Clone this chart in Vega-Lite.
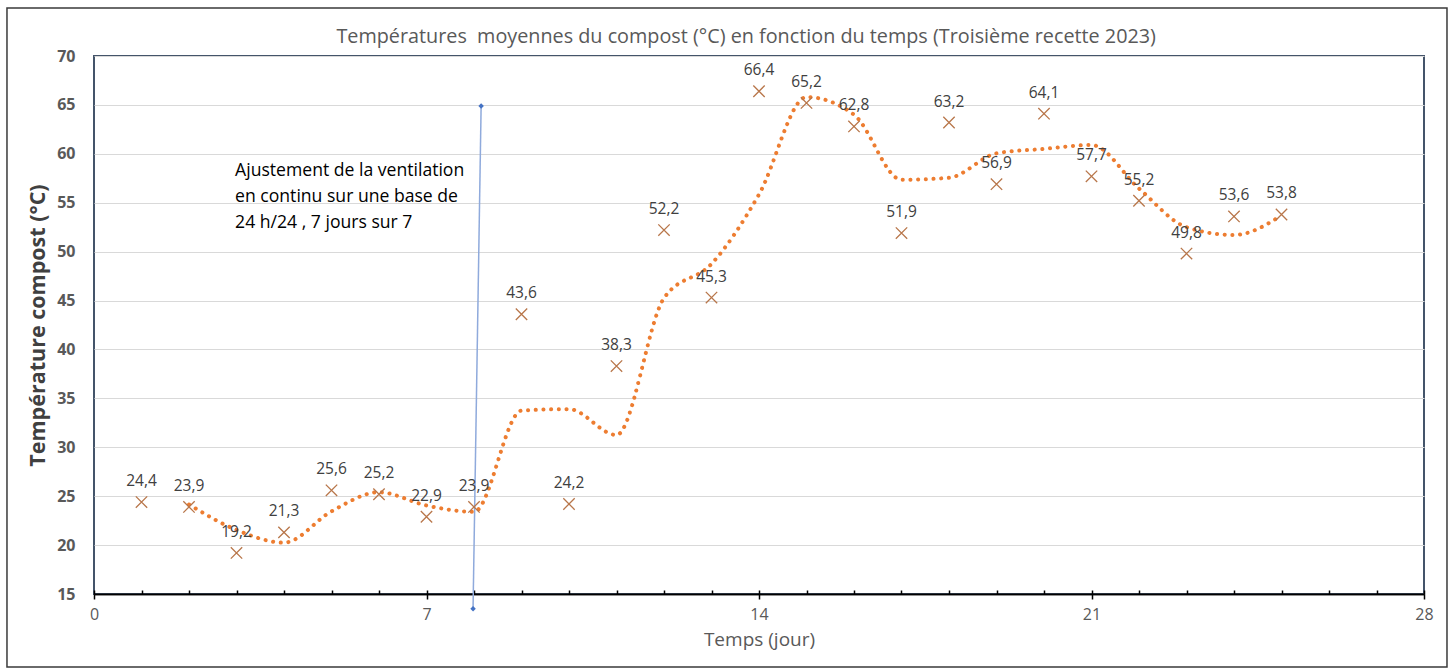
{
  "$schema": "https://vega.github.io/schema/vega-lite/v6.json",
  "width": 1330,
  "height": 538,
  "autosize": {"type": "none"},
  "padding": {"left": 94, "top": 56, "right": 30, "bottom": 74},
  "background": "white",
  "datasets": {
    "mesures": [
      {"jour": 1, "temp": 24.4}, {"jour": 2, "temp": 23.9}, {"jour": 3, "temp": 19.2},
      {"jour": 4, "temp": 21.3}, {"jour": 5, "temp": 25.6}, {"jour": 6, "temp": 25.2},
      {"jour": 7, "temp": 22.9}, {"jour": 8, "temp": 23.9}, {"jour": 9, "temp": 43.6},
      {"jour": 10, "temp": 24.2}, {"jour": 11, "temp": 38.3}, {"jour": 12, "temp": 52.2},
      {"jour": 13, "temp": 45.3}, {"jour": 14, "temp": 66.4}, {"jour": 15, "temp": 65.2},
      {"jour": 16, "temp": 62.8}, {"jour": 17, "temp": 51.9}, {"jour": 18, "temp": 63.2},
      {"jour": 19, "temp": 56.9}, {"jour": 20, "temp": 64.1}, {"jour": 21, "temp": 57.7},
      {"jour": 22, "temp": 55.2}, {"jour": 23, "temp": 49.8}, {"jour": 24, "temp": 53.6},
      {"jour": 25, "temp": 53.8}
    ],
    "tendance": [
      {"jour": 2, "moy": 24.15}, {"jour": 3, "moy": 21.55}, {"jour": 4, "moy": 20.25},
      {"jour": 5, "moy": 23.45}, {"jour": 6, "moy": 25.4}, {"jour": 7, "moy": 24.05},
      {"jour": 8, "moy": 23.4}, {"jour": 9, "moy": 33.75}, {"jour": 10, "moy": 33.9},
      {"jour": 11, "moy": 31.25}, {"jour": 12, "moy": 45.25}, {"jour": 13, "moy": 48.75},
      {"jour": 14, "moy": 55.85}, {"jour": 15, "moy": 65.8}, {"jour": 16, "moy": 64.0},
      {"jour": 17, "moy": 57.35}, {"jour": 18, "moy": 57.55}, {"jour": 19, "moy": 60.05},
      {"jour": 20, "moy": 60.5}, {"jour": 21, "moy": 60.9}, {"jour": 22, "moy": 56.45},
      {"jour": 23, "moy": 52.5}, {"jour": 24, "moy": 51.7}, {"jour": 25, "moy": 53.7}
    ],
    "repere": [
      {"jour": 7.98, "temp": 13.5},
      {"jour": 8.15, "temp": 64.9}
    ],
    "unique": [{}]
  },
  "data": {"name": "mesures"},
  "layer": [
    {
      "data": {"name": "unique"},
      "mark": {"type": "rect", "filled": false, "stroke": "#3a3a3a", "strokeWidth": 1.5, "clip": false},
      "encoding": {
        "x": {"datum": -1.832, "type": "quantitative", "scale": {"domain": [0, 28], "nice": false, "zero": false}, "axis": null},
        "x2": {"datum": 28.484},
        "y": {
          "datum": 74.91, "type": "quantitative",
          "scale": {"domain": [15, 70], "nice": false, "zero": false},
          "axis": {
            "values": [15, 20, 25, 30, 35, 40, 45, 50, 55, 60, 65, 70],
            "domain": false, "ticks": false,
            "grid": true, "gridColor": "#D9D9D9", "gridWidth": 1.2,
            "labelFont": "Open Sans", "labelFontSize": 16, "labelFontWeight": "bold", "labelColor": "#595959", "labelPadding": 19,
            "title": "Température compost (°C)", "titleFont": "Open Sans", "titleFontSize": 21.5, "titleFontWeight": "bold",
            "titleColor": "#404040", "titlePadding": 7
          }
        },
        "y2": {"datum": 7.54}
      }
    },
    {
      "data": {"name": "unique"},
      "mark": {"type": "text", "font": "Open Sans", "fontSize": 19.8, "color": "#595959", "align": "center", "baseline": "alphabetic", "clip": false},
      "encoding": {
        "x": {"datum": 13.73, "type": "quantitative", "axis": null},
        "y": {"datum": 71.33, "type": "quantitative"},
        "text": {"value": "Températures\u00a0 moyennes du compost (°C) en fonction du temps (Troisième recette 2023)"}
      }
    },
    {
      "data": {"name": "repere"},
      "mark": {"type": "line", "color": "#8FAADC", "strokeWidth": 1.5, "clip": false},
      "encoding": {
        "x": {"field": "jour", "type": "quantitative", "axis": null},
        "y": {"field": "temp", "type": "quantitative"}
      }
    },
    {
      "data": {"name": "repere"},
      "mark": {"type": "point", "shape": "diamond", "filled": true, "color": "#4472C4", "size": 30, "opacity": 1, "clip": false},
      "encoding": {
        "x": {"field": "jour", "type": "quantitative", "axis": null},
        "y": {"field": "temp", "type": "quantitative"}
      }
    },
    {
      "data": {"name": "tendance"},
      "mark": {"type": "line", "color": "#ED7D31", "strokeWidth": 4, "strokeCap": "round", "strokeDash": [0.1, 7.6], "interpolate": "monotone"},
      "encoding": {
        "x": {
          "field": "jour", "type": "quantitative",
          "axis": {
            "orient": "bottom",
            "values": [0, 7, 14, 21, 28],
            "domain": true, "domainColor": "#000000", "domainWidth": 1.5,
            "ticks": true, "tickColor": "#000000", "tickSize": 5, "tickWidth": 1.5,
            "grid": false, "labelFlush": false,
            "labelFont": "Open Sans", "labelFontSize": 16, "labelColor": "#595959", "labelPadding": 7,
            "title": "Temps (jour)", "titleFont": "Open Sans", "titleFontSize": 19, "titleFontWeight": "normal",
            "titleColor": "#595959", "titlePadding": 8
          }
        },
        "y": {"field": "moy", "type": "quantitative"}
      }
    },
    {
      "mark": {"type": "point", "shape": "M-1,-1L1,1M-1,1L1,-1", "filled": false, "color": "#B8764A", "strokeWidth": 1.3, "size": 130, "opacity": 1},
      "encoding": {
        "x": {
          "field": "jour", "type": "quantitative",
          "axis": {
            "orient": "bottom",
            "values": [0,1,2,3,4,5,6,7,8,9,10,11,12,13,14,15,16,17,18,19,20,21,22,23,24,25,26,27,28],
            "domain": true, "domainColor": "#000000", "domainWidth": 1.5,
            "ticks": true, "tickColor": "#000000", "tickSize": -4, "tickWidth": 1.5,
            "labels": false, "grid": false, "title": null
          }
        },
        "y": {"field": "temp", "type": "quantitative"}
      }
    },
    {
      "mark": {"type": "text", "font": "Open Sans", "fontSize": 15.5, "color": "#404040", "dy": -21, "baseline": "middle", "align": "center"},
      "encoding": {
        "x": {"field": "jour", "type": "quantitative", "axis": null},
        "y": {"field": "temp", "type": "quantitative"},
        "text": {"field": "temp", "type": "quantitative", "format": ".1f"}
      }
    },
    {
      "data": {"name": "unique"},
      "mark": {"type": "text", "font": "Open Sans", "fontSize": 17.6, "color": "#000000", "align": "left", "baseline": "top", "lineBreak": "\n", "lineHeight": 26},
      "encoding": {
        "x": {"datum": 2.97, "type": "quantitative", "axis": null},
        "y": {"datum": 59.2, "type": "quantitative"},
        "text": {"value": "Ajustement de la ventilation\nen continu sur une base de\n24 h/24 , 7 jours sur 7"}
      }
    }
  ],
  "resolve": {"axis": {"x": "independent"}},
  "config": {
    "locale": {"number": {"decimal": ",", "thousands": " ", "grouping": [3], "currency": ["", " €"]}},
    "view": {"stroke": "#44546A", "strokeWidth": 2},
    "axis": {"labelFont": "Open Sans"}
  }
}
